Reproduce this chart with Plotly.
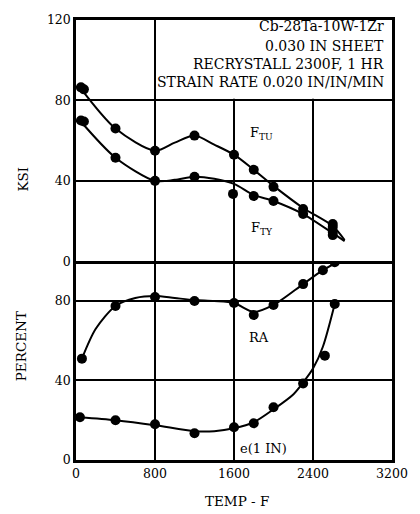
import plotly.graph_objects as go

T_ftu = [50, 80, 400, 800, 1200, 1600, 1800, 2000, 2300, 2600, 2600]
ftu = [86.5, 85.5, 66, 55, 62.5, 53, 45.5, 37, 26, 18.5, 17]
T_fty = [50, 80, 400, 800, 1200, 1590, 1800, 2000, 2300, 2600, 2600]
fty = [70, 69.5, 51.5, 40, 42, 33.5, 32.5, 30, 23.5, 14.5, 13]
T_ra = [60, 400, 800, 1200, 1600, 1800, 2000, 2300, 2500, 2620]
ra = [51, 77.5, 82, 80, 79, 73, 78, 88.5, 95.5, 99.5]
T_el = [40, 400, 800, 1200, 1600, 1800, 2000, 2300, 2520, 2620]
el = [21.5, 20, 18, 13.5, 16.5, 18.5, 26.5, 38.5, 52.5, 78.5]

# ---- faired curves ----
Tc_ftu = [40, 400, 800, 1000, 1200, 1400, 1600, 1800, 2000, 2300, 2600, 2720]
c_ftu = [86.5, 66, 55, 59, 62.5, 58, 53, 45.5, 37.5, 26.5, 17.5, 10.5]
Tc_fty = [40, 400, 800, 1000, 1200, 1400, 1600, 1800, 2000, 2300, 2600, 2720]
c_fty = [70, 51.5, 40, 40.5, 42, 41, 38.5, 33, 30, 23.5, 14, 10]
Tc_ra = [60, 200, 400, 600, 800, 1000, 1200, 1400, 1600, 1800, 2000, 2300, 2500, 2660]
c_ra = [51, 66, 77.5, 81.5, 82.5, 81.5, 80.5, 80, 79, 74.5, 78, 88.5, 95.5, 100]
Tc_el = [40, 400, 800, 1200, 1400, 1600, 1800, 2000, 2200, 2300, 2400, 2500, 2620]
c_el = [21.5, 20, 17.5, 14.5, 14.5, 16, 19, 25.5, 33, 39, 46, 57, 78.5]

x_ticks = [0, 800, 1600, 2400, 3200]
ksi_ticks = [0, 40, 80, 120]
pct_ticks = [0, 40, 80]

box_lines = ["Cb-28Ta-10W-1Zr", "0.030 IN SHEET", "RECRYSTALL 2300F, 1 HR",
             "STRAIN RATE 0.020 IN/IN/MIN"]
box_y = [116.8, 107.3, 98.0, 89.0]

FONT = "DejaVu Serif"

fig = go.Figure()

def add(Tc, c, Tp, p, xa, ya):
    fig.add_trace(go.Scatter(x=Tc, y=c, mode="lines", line=dict(color="black", width=2, shape="spline", smoothing=0.8),
                             xaxis=xa, yaxis=ya, showlegend=False, hoverinfo="skip"))
    fig.add_trace(go.Scatter(x=Tp, y=p, mode="markers", marker=dict(color="black", size=10),
                             xaxis=xa, yaxis=ya, showlegend=False))

add(Tc_ftu, c_ftu, T_ftu, ftu, "x2", "y2")
add(Tc_fty, c_fty, T_fty, fty, "x2", "y2")
add(Tc_ra, c_ra, T_ra, ra, "x", "y")
add(Tc_el, c_el, T_el, el, "x", "y")

def ax(**kw):
    d = dict(showline=True, linecolor="black", linewidth=2.5, mirror=True,
             showgrid=True, gridcolor="black", gridwidth=1.5, zeroline=False,
             ticks="", tickfont=dict(family=FONT, size=12.5, color="black"))
    d.update(kw)
    return d

fig.update_layout(
    width=420, height=514,
    margin=dict(l=76, r=18, t=15, b=54),
    paper_bgcolor="white", plot_bgcolor="white",
    xaxis=ax(range=[0, 3200], tickvals=x_ticks, domain=[0, 1], anchor="y", mirror=False),
    xaxis2=ax(range=[0, 3200], tickvals=x_ticks, domain=[0, 1], anchor="y2", matches="x",
              showticklabels=False),
    yaxis=ax(range=[0, 100], tickvals=pct_ticks, domain=[0, 201/445], anchor="x"),
    yaxis2=ax(range=[0, 120], tickvals=ksi_ticks, domain=[201/445, 1], anchor="x2"),
)

# white panel behind the note (hides gridlines there)
fig.add_shape(type="rect", xref="x2", yref="y2", x0=1000, x1=3200, y0=80.8, y1=120,
              fillcolor="white", line=dict(width=0), layer="between")

for i, (t, yv) in enumerate(zip(box_lines, box_y)):
    fig.add_annotation(x=3130, y=yv, xref="x2", yref="y2", text=t, showarrow=False,
                       xanchor="right", yanchor="middle",
                       bgcolor="white" if i == 3 else "rgba(0,0,0,0)", borderpad=0,
                       font=dict(family=FONT, size=14, color="black"))

labels = [("F<sub>TU</sub>", 1880, 63.5, "x2", "y2"), ("F<sub>TY</sub>", 1880, 16.5, "x2", "y2"),
          ("RA", 1850, 61.7, "x", "y"), ("e(1 IN)", 1900, 6, "x", "y")]
for t, xv, yv, xa, ya in labels:
    fig.add_annotation(x=xv, y=yv, xref=xa, yref=ya, text=t, showarrow=False,
                       font=dict(family=FONT, size=13, color="black"))

fig.add_annotation(x=-0.2, y=0.672, xref="paper", yref="paper", text="KSI", textangle=-90,
                   showarrow=False, font=dict(family=FONT, size=13.5, color="black"))
fig.add_annotation(x=-0.205, y=0.175, xref="paper", yref="paper", text="PERCENT", textangle=-90,
                   showarrow=False, font=dict(family=FONT, size=13.5, color="black"))
fig.add_annotation(x=0.509, y=-0.115, xref="paper", yref="paper", text="TEMP - F",
                   showarrow=False, font=dict(family=FONT, size=13.5, color="black"))

fig.write_html("out.html")
